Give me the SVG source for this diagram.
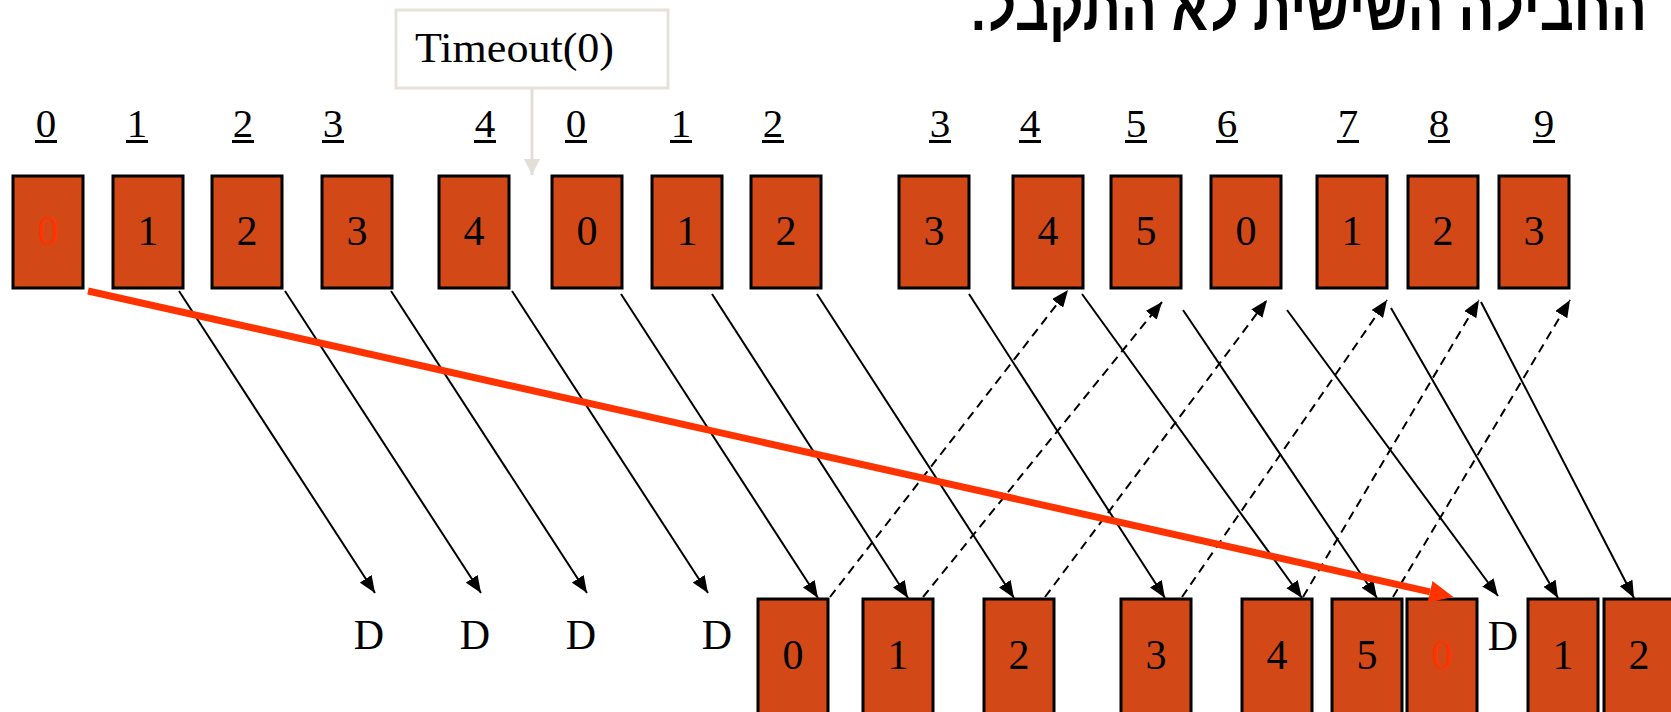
<svg xmlns="http://www.w3.org/2000/svg" width="1671" height="712" viewBox="0 0 1671 712">
  <defs>
    <style>
      .pkt { fill: #d34817; stroke: #000; stroke-width: 3; }
      .num { font-family: "Liberation Serif", "Times New Roman", serif; font-size: 42px; fill: #000; text-anchor: middle; }
      .lost { fill: #ff3300; }
      .seq { font-family: "Liberation Serif", "Times New Roman", serif; font-size: 41px; fill: #000; text-anchor: middle; }
      .ul { stroke: #000; stroke-width: 2.8; }
      .send { fill: none; stroke: #000; stroke-width: 2; }
      .ack { fill: none; stroke: #000; stroke-width: 2; stroke-dasharray: 9 6; }
      .title { font-family: "Liberation Sans", "DejaVu Sans", Arial, sans-serif; font-weight: bold; font-size: 62px; fill: #000; }
    </style>
    <marker id="head" markerUnits="userSpaceOnUse" viewBox="0 0 17 14" refX="17" refY="7" markerWidth="17" markerHeight="14" orient="auto">
      <path d="M0,0 L17,7 L0,14 z" fill="#000"/>
    </marker>
    <marker id="headGrey" markerUnits="userSpaceOnUse" viewBox="0 0 16 16" refX="16" refY="8" markerWidth="16" markerHeight="16" orient="auto">
      <path d="M0,0 L16,8 L0,16 z" fill="#e3dfd6"/>
    </marker>
    <marker id="headRed" markerUnits="userSpaceOnUse" viewBox="0 0 24 22" refX="0" refY="11" markerWidth="24" markerHeight="22" orient="auto">
      <path d="M0,0 L24,11 L0,22 z" fill="#ff3300"/>
    </marker>
  </defs>

  <rect width="1671" height="712" fill="#fff"/>

  <!-- heading, partly above the top edge -->
  <text class="title" x="1647" y="30" direction="rtl" unicode-bidi="embed" text-anchor="start" textLength="676" lengthAdjust="spacingAndGlyphs">החבילה השישית לא התקבל.</text>

  <!-- timeout callout -->
  <g id="timeout">
    <rect x="396" y="10" width="272" height="78" fill="#fff" stroke="#e6e2da" stroke-width="3"/>
    <text x="415" y="62" font-family="Liberation Serif, Times New Roman, serif" font-size="43" fill="#000" textLength="199" lengthAdjust="spacingAndGlyphs">Timeout(0)</text>
    <line x1="532" y1="88" x2="532" y2="175" stroke="#e3dfd6" stroke-width="3" marker-end="url(#headGrey)"/>
  </g>

  <!-- sequence numbers of the sender window -->
  <g id="seq-labels">
    <text class="seq" x="46" y="137">0</text>
    <text class="seq" x="137" y="137">1</text>
    <text class="seq" x="243" y="137">2</text>
    <text class="seq" x="333" y="137">3</text>
    <text class="seq" x="485" y="137">4</text>
    <text class="seq" x="576" y="137">0</text>
    <text class="seq" x="681" y="137">1</text>
    <text class="seq" x="773" y="137">2</text>
    <text class="seq" x="940" y="137">3</text>
    <text class="seq" x="1030" y="137">4</text>
    <text class="seq" x="1136" y="137">5</text>
    <text class="seq" x="1227" y="137">6</text>
    <text class="seq" x="1348" y="137">7</text>
    <text class="seq" x="1439" y="137">8</text>
    <text class="seq" x="1544" y="137">9</text>
    <path class="ul" d="M35,141.5h22 M126,141.5h22 M232,141.5h22 M322,141.5h22 M474,141.5h22 M565,141.5h22 M670,141.5h22 M762,141.5h22 M929,141.5h22 M1019,141.5h22 M1125,141.5h22 M1216,141.5h22 M1337,141.5h22 M1428,141.5h22 M1533,141.5h22"/>
  </g>

  <!-- sent packets -->
  <g id="tx0"><rect class="pkt" x="13" y="176" width="70" height="112"/><text class="num lost" x="48" y="245">0</text></g>
  <g id="tx1"><rect class="pkt" x="113" y="176" width="70" height="112"/><text class="num" x="148" y="245">1</text></g>
  <g id="tx2"><rect class="pkt" x="212" y="176" width="70" height="112"/><text class="num" x="247" y="245">2</text></g>
  <g id="tx3"><rect class="pkt" x="322" y="176" width="70" height="112"/><text class="num" x="357" y="245">3</text></g>
  <g id="tx4"><rect class="pkt" x="439" y="176" width="70" height="112"/><text class="num" x="474" y="245">4</text></g>
  <g id="tx5"><rect class="pkt" x="552" y="176" width="70" height="112"/><text class="num" x="587" y="245">0</text></g>
  <g id="tx6"><rect class="pkt" x="652" y="176" width="70" height="112"/><text class="num" x="687" y="245">1</text></g>
  <g id="tx7"><rect class="pkt" x="751" y="176" width="70" height="112"/><text class="num" x="786" y="245">2</text></g>
  <g id="tx8"><rect class="pkt" x="899" y="176" width="70" height="112"/><text class="num" x="934" y="245">3</text></g>
  <g id="tx9"><rect class="pkt" x="1013" y="176" width="70" height="112"/><text class="num" x="1048" y="245">4</text></g>
  <g id="tx10"><rect class="pkt" x="1111" y="176" width="70" height="112"/><text class="num" x="1146" y="245">5</text></g>
  <g id="tx11"><rect class="pkt" x="1211" y="176" width="70" height="112"/><text class="num" x="1246" y="245">0</text></g>
  <g id="tx12"><rect class="pkt" x="1317" y="176" width="70" height="112"/><text class="num" x="1352" y="245">1</text></g>
  <g id="tx13"><rect class="pkt" x="1408" y="176" width="70" height="112"/><text class="num" x="1443" y="245">2</text></g>
  <g id="tx14"><rect class="pkt" x="1499" y="176" width="70" height="112"/><text class="num" x="1534" y="245">3</text></g>

  <!-- received packets and discards -->
  <g id="rx-discards">
    <text class="num" x="369" y="649">D</text>
    <text class="num" x="475" y="649">D</text>
    <text class="num" x="581" y="649">D</text>
    <text class="num" x="717" y="649">D</text>
    <text class="num" x="1503" y="650">D</text>
  </g>
  <g id="rx0"><rect class="pkt" x="758" y="599" width="70" height="125"/><text class="num" x="793" y="669">0</text></g>
  <g id="rx1"><rect class="pkt" x="863" y="599" width="70" height="125"/><text class="num" x="898" y="669">1</text></g>
  <g id="rx2"><rect class="pkt" x="984" y="599" width="70" height="125"/><text class="num" x="1019" y="669">2</text></g>
  <g id="rx3"><rect class="pkt" x="1121" y="599" width="70" height="125"/><text class="num" x="1156" y="669">3</text></g>
  <g id="rx4"><rect class="pkt" x="1242" y="599" width="70" height="125"/><text class="num" x="1277" y="669">4</text></g>
  <g id="rx5"><rect class="pkt" x="1332" y="599" width="70" height="125"/><text class="num" x="1367" y="669">5</text></g>
  <g id="rx6"><rect class="pkt" x="1407" y="599" width="70" height="125"/><text class="num lost" x="1442" y="669">0</text></g>
  <g id="rx7"><rect class="pkt" x="1528" y="599" width="70" height="125"/><text class="num" x="1563" y="669">1</text></g>
  <g id="rx8"><rect class="pkt" x="1604" y="599" width="70" height="125"/><text class="num" x="1639" y="669">2</text></g>

  <!-- connectors -->
  <g id="connectors">
    <!-- data frames -->
    <line class="send" x1="179" y1="291" x2="375" y2="593" marker-end="url(#head)"/>
    <line class="send" x1="285" y1="291" x2="481" y2="593" marker-end="url(#head)"/>
    <line class="send" x1="391" y1="291" x2="587" y2="593" marker-end="url(#head)"/>
    <line class="send" x1="512" y1="291" x2="708" y2="593" marker-end="url(#head)"/>
    <line class="send" x1="621" y1="294" x2="818" y2="598" marker-end="url(#head)"/>
    <line class="send" x1="712" y1="294" x2="908" y2="598" marker-end="url(#head)"/>
    <line class="send" x1="817" y1="294" x2="1014" y2="598" marker-end="url(#head)"/>
    <line class="send" x1="969" y1="294" x2="1165" y2="598" marker-end="url(#head)"/>
    <line class="send" x1="1082" y1="294" x2="1302" y2="598" marker-end="url(#head)"/>
    <line class="send" x1="1183" y1="310" x2="1377" y2="598" marker-end="url(#head)"/>
    <line class="send" x1="1287" y1="310" x2="1498" y2="596" marker-end="url(#head)"/>
    <line class="send" x1="1391" y1="308" x2="1558" y2="598" marker-end="url(#head)"/>
    <line class="send" x1="1481" y1="302" x2="1634" y2="598" marker-end="url(#head)"/>
    <!-- acknowledgements -->
    <line class="ack" x1="830" y1="597" x2="1068" y2="290" marker-end="url(#head)"/>
    <line class="ack" x1="923" y1="597" x2="1162" y2="302" marker-end="url(#head)"/>
    <line class="ack" x1="1045" y1="597" x2="1267" y2="300" marker-end="url(#head)"/>
    <line class="ack" x1="1182" y1="597" x2="1387" y2="300" marker-end="url(#head)"/>
    <line class="ack" x1="1303" y1="597" x2="1479" y2="300" marker-end="url(#head)"/>
    <line class="ack" x1="1393" y1="597" x2="1570" y2="300" marker-end="url(#head)"/>
    <!-- lost frame 0 finally delivered -->
    <line x1="88" y1="291" x2="1430" y2="591.8" stroke="#ff3300" stroke-width="7" marker-end="url(#headRed)"/>
  </g>
</svg>
